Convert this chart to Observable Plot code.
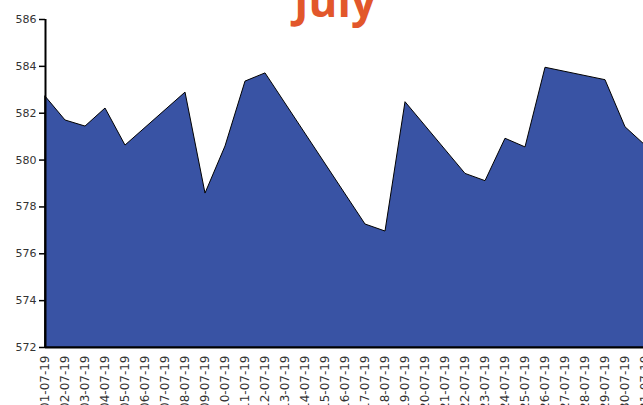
<!DOCTYPE html>
<html>
<head>
<meta charset="utf-8">
<script src="https://cdn.jsdelivr.net/npm/d3@7"></script>
<script src="https://cdn.jsdelivr.net/npm/@observablehq/plot@0.6"></script>
<style>
  html, body { margin: 0; padding: 0; overflow: hidden; background: #fff; width: 643px; height: 405px; }
  #wrap { position: relative; width: 643px; height: 405px; overflow: hidden; }
  #title { position: absolute; left: 0; width: 670px; text-align: center; top: -30px;
           font-family: "Open Sans", sans-serif; font-weight: bold; font-size: 44px; color: #e2572b; margin: 0; line-height: 60px; }
  #chart { position: absolute; left: 0; top: 0; }
  #chart svg { max-width: none !important; }
</style>
</head>
<body>
<div id="wrap">
  <h1 id="title">July</h1>
  <div id="chart"></div>
</div>
<script>
const dates = ["2019-07-01","2019-07-02","2019-07-03","2019-07-04","2019-07-05",
  "2019-07-08","2019-07-09","2019-07-10","2019-07-11","2019-07-12",
  "2019-07-17","2019-07-18","2019-07-19",
  "2019-07-22","2019-07-23","2019-07-24","2019-07-25","2019-07-26",
  "2019-07-29","2019-07-30","2019-07-31"];
const values = [582.71,581.69,581.43,582.20,580.62,
  582.88,578.57,580.58,583.35,583.70,
  577.25,576.95,582.47,
  579.41,579.10,580.91,580.54,583.94,
  583.41,581.40,580.62];
const yTicks = [572,574,576,578,580,582,584,586];

const parse = d3.utcParse("%Y-%m-%d");
const data = dates.map((d, i) => ({date: parse(d), value: values[i]}));
const xTicks = d3.utcDay.range(parse("2019-07-01"), d3.utcDay.offset(parse("2019-07-31"), 1));

const chart = Plot.plot({
  width: 680,
  height: 425,
  marginLeft: 45,
  marginRight: 35,
  marginTop: 19,
  marginBottom: 78,
  style: {fontFamily: "'DejaVu Sans', Verdana, sans-serif", fontSize: "11px", color: "#333", background: "transparent", maxWidth: "none"},
  x: {type: "utc", domain: [parse("2019-07-01"), parse("2019-07-31")], label: null},
  y: {domain: [572, 586], label: null},
  marks: [
    Plot.areaY(data, {x: "date", y1: 572, y2: "value", fill: "#3953a4", stroke: "#000", strokeWidth: 1}),
    Plot.axisX({ticks: xTicks, tickFormat: d3.utcFormat("%d-%m-%y"), tickSize: 0, tickRotate: -90, tickPadding: 8, fontSize: 12, fill: "#333", label: null}),
    Plot.axisY({ticks: yTicks, tickSize: 6, tickPadding: 3, fontSize: 11, stroke: "#000", strokeWidth: 1.5, fill: "#333", label: null}),
    Plot.ruleX([parse("2019-07-01")], {y1: 572, y2: 586, stroke: "#000", strokeWidth: 2}),
    Plot.ruleY([572], {stroke: "#000", strokeWidth: 2})
  ]
});
document.getElementById("chart").appendChild(chart);
</script>
</body>
</html>
